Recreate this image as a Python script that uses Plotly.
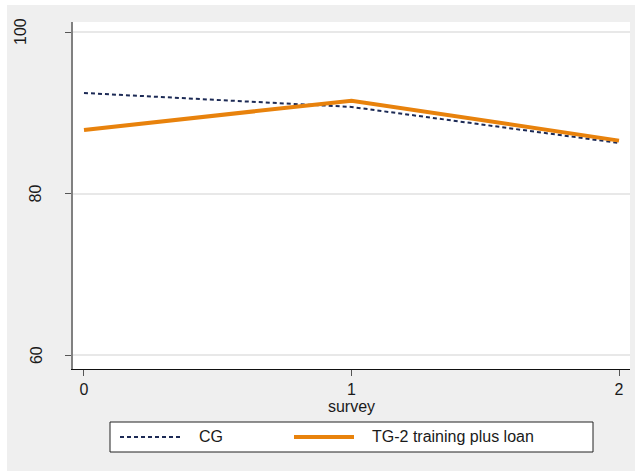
import plotly.graph_objects as go

# Survey rounds and mean outcome per group
survey = [0, 1, 2]
cg_values = [92.45, 90.72, 86.26]
tg2_values = [87.87, 91.50, 86.55]

series_names = ["CG", "TG-2 training plus loan"]
series_colors = ["#1c2a55", "#e8820c"]

y_ticks = [60, 80, 100]
x_ticks = [0, 1, 2]

W, H = 635, 471
ML, MR, MT, MB = 73, 5, 22, 102
PW, PH = W - ML - MR, H - MT - MB


def px_x(p):
    return (p - ML) / PW


def px_y(p):
    return (H - MB - p) / PH


FONT = "Liberation Sans, Arial, sans-serif"

fig = go.Figure()
fig.add_trace(go.Scatter(
    x=survey, y=cg_values, mode="lines", name=series_names[0],
    line=dict(color=series_colors[0], width=2, dash="4px,3px"),
))
fig.add_trace(go.Scatter(
    x=survey, y=tg2_values, mode="lines", name=series_names[1],
    line=dict(color=series_colors[1], width=4),
))

shapes = [
    # thin white frame on the left and top of the canvas
    dict(type="rect", xref="paper", yref="paper", x0=px_x(0), x1=px_x(7),
         y0=px_y(H), y1=px_y(0), fillcolor="white", line=dict(width=0), layer="below"),
    dict(type="rect", xref="paper", yref="paper", x0=px_x(0), x1=px_x(W),
         y0=px_y(5), y1=px_y(0), fillcolor="white", line=dict(width=0), layer="below"),
    # legend box
    dict(type="rect", xref="paper", yref="paper", x0=px_x(110), x1=px_x(593),
         y0=px_y(452), y1=px_y(422), fillcolor="white",
         line=dict(color="#222222", width=1)),
]

annotations = []
# legend keys and labels
key_x = [(120, 181, 197), (294, 354, 370)]
key_y = 437
for (x0, x1, tx), name, color, dash, w in zip(
        key_x, series_names, series_colors, ["4px,3px", "solid"], [2, 4]):
    shapes.append(dict(type="line", xref="paper", yref="paper",
                       x0=px_x(x0), x1=px_x(x1), y0=px_y(key_y), y1=px_y(key_y),
                       line=dict(color=color, width=w, dash=dash)))
    annotations.append(dict(text=name, xref="paper", yref="paper",
                            x=px_x(tx), y=px_y(key_y), xanchor="left", yanchor="middle",
                            showarrow=False, font=dict(family=FONT, size=16, color="#1a1a1a")))

# rotated y tick labels
label_cx = {100: 20, 80: 36, 60: 36}
for v in y_ticks:
    annotations.append(dict(text=str(v), xref="paper", yref="y",
                            x=px_x(label_cx[v]), y=v, xanchor="center", yanchor="middle",
                            textangle=-90, showarrow=False,
                            font=dict(family=FONT, size=16, color="#1a1a1a")))

fig.update_layout(
    width=W, height=H,
    margin=dict(l=ML, r=MR, t=MT, b=MB),
    paper_bgcolor="#efefef",
    plot_bgcolor="white",
    showlegend=False,
    font=dict(family=FONT, size=16, color="#1a1a1a"),
    shapes=shapes,
    annotations=annotations,
    xaxis=dict(
        range=[-0.0411, 2.0411], tickvals=x_ticks, ticks="outside", ticklen=6,
        tickcolor="#555555", tickwidth=1, showgrid=False, zeroline=False,
        showline=True, linecolor="#111111", linewidth=1,
        tickfont=dict(size=16), title=dict(text="survey", font=dict(size=16), standoff=2),
    ),
    yaxis=dict(
        range=[58.27, 101.24], tickvals=y_ticks, ticks="outside", ticklen=6,
        tickcolor="#555555", tickwidth=1, showticklabels=False,
        showgrid=True, gridcolor="#e8e8e8", gridwidth=1.5, zeroline=False,
        showline=True, linecolor="#808080", linewidth=2,
    ),
)

fig.write_html("out.html")
